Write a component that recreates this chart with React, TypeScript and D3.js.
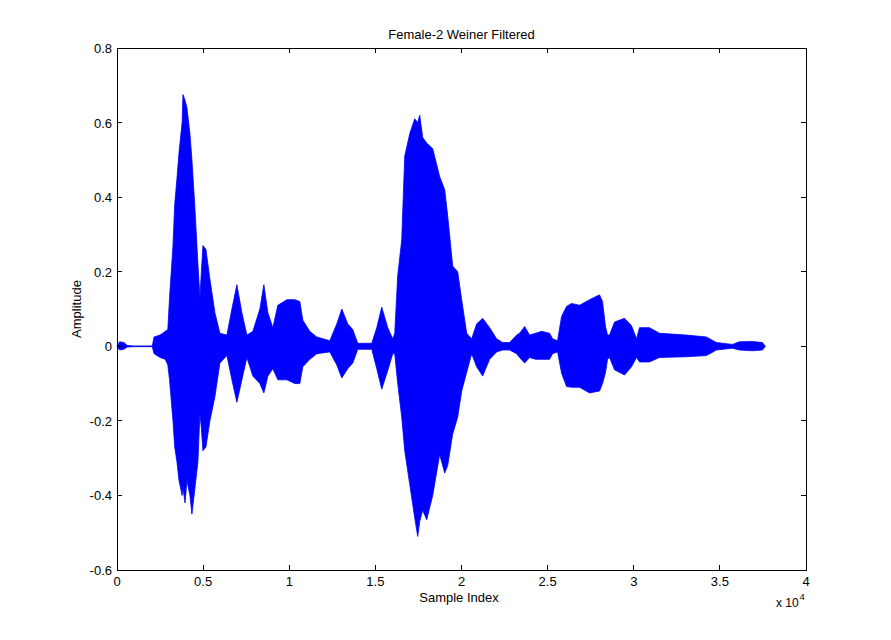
import React from 'react';
import * as d3 from 'd3';

// envelope of the waveform (sample index, max, min)
const sampleIdx = [
  0, 150, 400, 600, 1000, 2050, 2150, 2500, 2800, 2950, 3050, 3250, 3350, 3480, 3600, 3780, 3830, 3950,
  4060, 4234, 4350, 4524, 4698, 4814, 4900, 4988, 5162, 5394, 5684, 5974, 6380, 6670, 6960, 7250, 7540,
  7888, 8294, 8526, 8758, 9048, 9338, 9860, 10324, 10614, 10788, 11194, 11600, 12354, 12760, 13050,
  13398, 13688, 13978, 14790, 15080, 15370, 15718, 16008, 16124, 16298, 16530, 16704, 16994, 17284,
  17458, 17574, 17748, 17980, 18328, 18734, 19024, 19198, 19488, 19778, 20010, 20300, 20590, 20880,
  21228, 21634, 22040, 22388, 22794, 23200, 23374, 23664, 23954, 24300, 24650, 25114, 25288, 25578,
  25810, 26100, 26390, 26854, 27434, 28014, 28188, 28362, 28478, 28594, 28884, 29464, 29870, 30160,
  30334, 30914, 31494, 33060, 34220, 34800, 35728, 36134, 36888, 37468, 37642,
];
const upperEnv = [
  0, 0.012, 0.01, 0.002, 0.001, 0.001, 0.025, 0.03, 0.04, 0.045, 0.13, 0.27, 0.38, 0.45, 0.52, 0.6, 0.675, 0.66,
  0.64, 0.57, 0.5, 0.37, 0.22, 0.13, 0.2, 0.27, 0.26, 0.18, 0.09, 0.035, 0.03, 0.1, 0.165, 0.09, 0.03,
  0.04, 0.1, 0.165, 0.09, 0.05, 0.11, 0.125, 0.125, 0.12, 0.07, 0.04, 0.025, 0.015, 0.06, 0.1,
  0.06, 0.045, 0.008, 0.008, 0.05, 0.105, 0.05, 0.02, 0.035, 0.19, 0.285, 0.51, 0.57, 0.61,
  0.6, 0.62, 0.56, 0.545, 0.53, 0.455, 0.42, 0.35, 0.215, 0.2, 0.125, 0.035, 0.02, 0.06,
  0.075, 0.05, 0.02, 0.01, 0.01, 0.03, 0.035, 0.053, 0.03, 0.035, 0.04, 0.035, 0.02, 0.015,
  0.08, 0.107, 0.115, 0.11, 0.125, 0.138, 0.12, 0.052, 0.03, 0.03, 0.065, 0.075, 0.055, 0.02,
  0.05, 0.05, 0.035, 0.03, 0.025, 0.01, 0.005, 0.012, 0.013, 0.01, 0,
];
const lowerEnv = [
  0, -0.01, -0.008, -0.002, -0.001, -0.001, -0.02, -0.03, -0.035, -0.05, -0.09, -0.2, -0.27, -0.31, -0.36, -0.4, -0.38, -0.42,
  -0.36, -0.4, -0.45, -0.38, -0.31, -0.18, -0.22, -0.28, -0.27, -0.2, -0.135, -0.045, -0.025, -0.09, -0.15, -0.09, -0.03,
  -0.08, -0.1, -0.125, -0.08, -0.06, -0.09, -0.09, -0.1, -0.1, -0.055, -0.035, -0.02, -0.015, -0.05, -0.085,
  -0.06, -0.045, -0.008, -0.008, -0.06, -0.115, -0.065, -0.02, -0.02, -0.1, -0.19, -0.28, -0.37, -0.46,
  -0.51, -0.47, -0.44, -0.465, -0.4, -0.29, -0.34, -0.32, -0.235, -0.19, -0.12, -0.07, -0.02, -0.055,
  -0.08, -0.035, -0.015, -0.01, -0.01, -0.02, -0.03, -0.045, -0.03, -0.035, -0.035, -0.035, -0.02, -0.015,
  -0.072, -0.108, -0.11, -0.11, -0.125, -0.12, -0.1, -0.07, -0.035, -0.03, -0.063, -0.077, -0.055, -0.03,
  -0.042, -0.042, -0.03, -0.028, -0.025, -0.01, -0.005, -0.01, -0.012, -0.01, 0,
];

const xTicks = [0, 5000, 10000, 15000, 20000, 25000, 30000, 35000, 40000];
const xTickLabels = ['0', '0.5', '1', '1.5', '2', '2.5', '3', '3.5', '4'];
const yTicks = [-0.6, -0.4, -0.2, 0, 0.2, 0.4, 0.6, 0.8];
const yTickLabels = ['-0.6', '-0.4', '-0.2', '0', '0.2', '0.4', '0.6', '0.8'];

const W = 891;
const H = 640;
const left = 117;
const right = 806;
const top = 48;
const bottom = 570;
const font = 'Arial, "Liberation Sans", Helvetica, sans-serif';

const App: React.FC = () => {
  const x = d3.scaleLinear().domain([0, 40000]).range([left, right]);
  const y = d3.scaleLinear().domain([-0.6, 0.8]).range([bottom, top]);

  const pts = sampleIdx.map((s, i) => ({ s, hi: upperEnv[i], lo: lowerEnv[i] }));
  const area = d3
    .area<{ s: number; hi: number; lo: number }>()
    .x(d => x(d.s))
    .y0(d => y(d.lo))
    .y1(d => y(d.hi));

  const tick = 5;

  return (
    <svg width={W} height={H} style={{ position: 'absolute', left: 0, top: 0, background: '#fff' }}>
      <rect x={0} y={0} width={W} height={H} fill="#fff" />
      <path d={area(pts) ?? ''} fill="#0000ff" stroke="#0000ff" strokeWidth={0.8} />

      {/* box */}
      <rect x={left} y={top} width={right - left} height={bottom - top} fill="none" stroke="#000" strokeWidth={1} shapeRendering="crispEdges" />

      {xTicks.map((t, i) => (
        <g key={'x' + t} shapeRendering="crispEdges">
          <line x1={x(t)} x2={x(t)} y1={bottom} y2={bottom - tick} stroke="#000" />
          <line x1={x(t)} x2={x(t)} y1={top} y2={top + tick} stroke="#000" />
          <text x={x(t)} y={bottom + 16} textAnchor="middle" fontFamily={font} fontSize={13}>
            {xTickLabels[i]}
          </text>
        </g>
      ))}
      {yTicks.map((t, i) => (
        <g key={'y' + t} shapeRendering="crispEdges">
          <line x1={left} x2={left + tick} y1={y(t)} y2={y(t)} stroke="#000" />
          <line x1={right} x2={right - tick} y1={y(t)} y2={y(t)} stroke="#000" />
          <text x={left - 5} y={y(t) + 5} textAnchor="end" fontFamily={font} fontSize={13}>
            {yTickLabels[i]}
          </text>
        </g>
      ))}

      <text x={(left + right) / 2} y={38.5} textAnchor="middle" fontFamily={font} fontSize={13}>
        Female-2 Weiner Filtered
      </text>
      <text x={459} y={602} textAnchor="middle" fontFamily={font} fontSize={13}>
        Sample Index
      </text>
      <text
        transform={`translate(81, ${(top + bottom) / 2}) rotate(-90)`}
        textAnchor="middle"
        fontFamily={font}
        fontSize={13}
      >
        Amplitude
      </text>
      <text x={776} y={607} fontFamily={font} fontSize={12}>
        x 10
        <tspan dx={1} dy={-7} fontSize={9}>
          4
        </tspan>
      </text>
    </svg>
  );
};

export default App;
